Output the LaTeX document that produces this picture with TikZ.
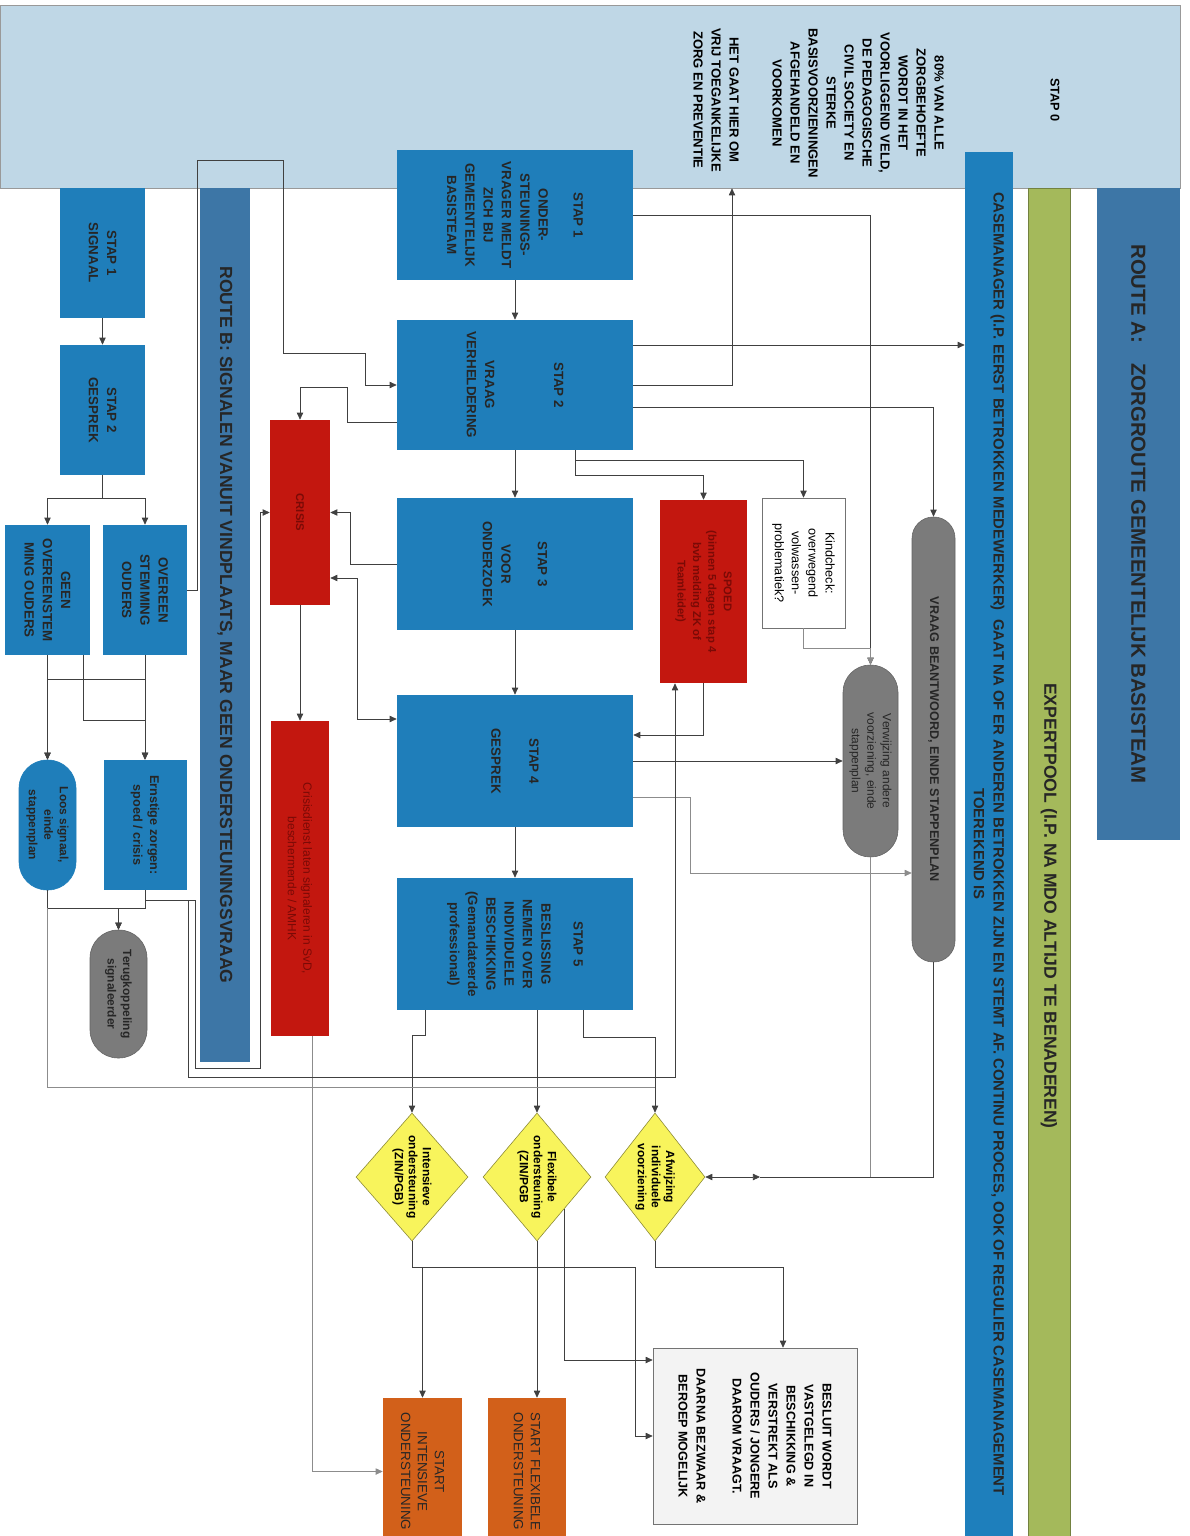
\documentclass[tikz,border=0pt]{standalone}
\usepackage{fontspec}
\setmainfont{Liberation Sans}
\usetikzlibrary{shapes.geometric,arrows.meta,calc}

\definecolor{stapnulblauw}{HTML}{BFD7E6}
\definecolor{stapblauw}{HTML}{1F7EBA}
\definecolor{routeblauw}{HTML}{3D76A6}
\definecolor{casemanagerblauw}{HTML}{1E7FBC}
\definecolor{expertgroen}{HTML}{A4B95B}
\definecolor{crisisrood}{HTML}{C3170F}
\definecolor{crisistekst}{HTML}{7A0A06}
\definecolor{eindgrijs}{HTML}{7B7B7B}
\definecolor{keuzegeel}{HTML}{F8F45C}
\definecolor{startoranje}{HTML}{D2601A}
\definecolor{besluitgrijs}{HTML}{F3F3F3}

\tikzset{
  maat/.style 2 args={minimum width=#1*0.025cm, minimum height=#2*0.025cm},
  gedraaid/.style={rotate=-90, align=center, inner sep=1pt},
  stap/.style={gedraaid, rectangle, fill=stapblauw, text=black!85, font=\bfseries\fontsize{9.5}{13}\selectfont},
  balk/.style={gedraaid, rectangle, text=black!85},
  crisisbox/.style={gedraaid, rectangle, fill=crisisrood, text=crisistekst, font=\bfseries\fontsize{8}{11}\selectfont},
  eindbox/.style={gedraaid, rectangle, rounded corners=#1, fill=eindgrijs, draw=eindgrijs!80!black, text=black!85, font=\bfseries\fontsize{8.5}{11}\selectfont},
  notitie/.style={gedraaid, rectangle, draw=black!55, fill=white, text=black},
  keuze/.style={diamond, rotate=-90, fill=keuzegeel, draw=keuzegeel!55!black, inner sep=0pt},
  keuzetekst/.style={gedraaid, font=\bfseries\fontsize{8.5}{10}\selectfont},
  startbox/.style={gedraaid, rectangle, fill=startoranje, text=black!85, font=\fontsize{9.5}{12}\selectfont},
  lijn/.style={draw=black!75, line width=0.5pt},
  grijslijn/.style={draw=black!45, line width=0.5pt},
  pijl/.style={lijn, -{Triangle[length=5pt,width=4.5pt]}},
  pijlen/.style={lijn, {Triangle[length=5pt,width=4.5pt]}-{Triangle[length=5pt,width=4.5pt]}}
}

\begin{document}
\begin{tikzpicture}[x=0.025cm, y=-0.025cm]
\useasboundingbox (0,0) rectangle (1189,1536);

% stap 0
\node[rectangle, fill=stapnulblauw, draw=black!40, minimum width=1180*0.025cm, minimum height=183*0.025cm] (stapnul) at (590,96.5) {};
\node[gedraaid, font=\bfseries\fontsize{9}{12}\selectfont] (stapnultitel) at (1055,100) {STAP 0};
\node[gedraaid, font=\bfseries\fontsize{9.3}{12.8}\selectfont] (tachtig) at (858,103) {80\% VAN ALLE\\ZORGBEHOEFTE\\WORDT IN HET\\VOORLIGGEND VELD,\\DE PEDAGOGISCHE\\CIVIL SOCIETY EN\\STERKE\\BASISVOORZIENINGEN\\AFGEHANDELD EN\\VOORKOMEN};
\node[gedraaid, font=\bfseries\fontsize{9.3}{12.8}\selectfont] (vrij) at (716,100) {HET GAAT HIER OM\\VRIJ TOEGANKELIJKE\\ZORG EN PREVENTIE};

% balken
\node[balk, fill=casemanagerblauw, maat={1384}{48}, font=\bfseries\fontsize{10.6}{14}\selectfont] (casemanager) at (989,844) {CASEMANAGER (I.P. EERST BETROKKEN MEDEWERKER)\ \ GAAT NA OF ER ANDEREN BETROKKEN ZIJN EN STEMT AF. CONTINU PROCES, OOK OF REGULIER CASEMANAGEMENT\\TOEREKEND IS};
\node[balk, fill=expertgroen, draw=expertgroen!70!black, maat={1348}{42}] (expertpool) at (1049,862) {};
\node[gedraaid, text=black!85, font=\bfseries\fontsize{12.5}{14}\selectfont] (experttekst) at (1049,906) {EXPERTPOOL (I.P. NA MDO ALTIJD TE BENADEREN)};
\node[balk, fill=routeblauw, maat={652}{83}, font=\bfseries\fontsize{14.5}{17}\selectfont] (routea) at (1138.5,514) {ROUTE A:\quad ZORGROUTE GEMEENTELIJK BASISTEAM};
\node[balk, fill=routeblauw, maat={874}{50}, font=\bfseries\fontsize{12.5}{14}\selectfont] (routeb) at (225,625) {ROUTE B: SIGNALEN VANUIT VINDPLAATS, MAAR GEEN ONDERSTEUNINGSVRAAG};

% route A
\node[stap, maat={130}{236}] (s1) at (515,215) {STAP 1\\[12pt]ONDER-\\STEUNINGS-\\VRAGER MELDT\\ZICH BIJ\\GEMEENTELIJK\\BASISTEAM};
\node[stap, maat={130}{236}] (s2) at (515,385) {STAP 2\\[36pt]VRAAG\\VERHELDERING};
\node[stap, maat={132}{236}] (s3) at (515,564) {STAP 3\\[13pt]VOOR\\ONDERZOEK};
\node[stap, maat={132}{236}] (s4) at (515,761) {STAP 4\\[14pt]GESPREK};
\node[stap, maat={132}{236}] (s5) at (515,944) {STAP 5\\[10pt]BESLISSING\\NEMEN OVER\\INDIVIDUELE\\BESCHIKKING\\(Gemandateerde\\professional)};

\node[crisisbox, maat={183}{87}] (spoed) at (703.5,591.5) {SPOED\\(binnen 5 dagen stap 4\\bvb melding ZK of\\Teamleider)};
\node[notitie, maat={130}{83}, font=\fontsize{9}{12}\selectfont] (kindcheck) at (803.5,563) {Kindcheck:\\overwegend\\volwassen-\\problematiek?};
\node[eindbox=0.53cm, maat={445}{43}, font=\bfseries\fontsize{9}{11}\selectfont] (vraag) at (933.5,739.5) {VRAAG BEANTWOORD, EINDE STAPPENPLAN};
\node[eindbox=0.68cm, maat={192}{55}, font=\fontsize{8.5}{11}\selectfont] (verwijzing) at (870.5,761) {Verwijzing andere\\voorziening, einde\\stappenplan};

\node[crisisbox, maat={185}{60}] (crisis) at (300,512.5) {CRISIS};
\node[crisisbox, maat={315}{58}, font=\fontsize{8.5}{11}\selectfont] (crisisdienst) at (300,878.5) {Crisisdienst laten signaleren in SvD,\\beschermende / AMHK};

\node[keuze, maat={128}{112}] (intensief) at (412,1177) {};
\node[keuzetekst] (intensieftekst) at (intensief) {Intensieve\\ondersteuning\\(ZIN/PGB)};
\node[keuze, maat={128}{108}] (flexibel) at (537,1177) {};
\node[keuzetekst] (flexibeltekst) at (flexibel) {Flexibele\\ondersteuning\\(ZIN/PGB};
\node[keuze, maat={128}{100}] (afwijzing) at (655,1177) {};
\node[keuzetekst] (afwijzingtekst) at (afwijzing) {Afwijzing\\individuele\\voorziening};

\node[startbox, maat={147}{79}] (startint) at (422.5,1471.5) {START\\INTENSIEVE\\ONDERSTEUNING};
\node[startbox, maat={147}{78}] (startflex) at (527,1471.5) {START FLEXIBELE\\ONDERSTEUNING};
\node[notitie, fill=besluitgrijs, maat={176}{204}, font=\bfseries\fontsize{9}{12.8}\selectfont] (besluit) at (755,1436) {BESLUIT WORDT\\VASTGELEGD IN\\BESCHIKKING \&\\VERSTREKT ALS\\OUDERS / JONGERE\\DAAROM VRAAGT.\\[12.8pt]DAARNA BEZWAAR \&\\BEROEP MOGELIJK};

% route B
\node[stap, maat={130}{85}] (b1) at (102.5,253) {STAP 1\\SIGNAAL};
\node[stap, maat={130}{85}] (b2) at (102.5,410) {STAP 2\\GESPREK};
\node[stap, maat={130}{84}] (overeen) at (145,590) {OVEREEN\\STEMMING\\OUDERS};
\node[stap, maat={130}{85}] (geen) at (47.5,590) {GEEN\\OVEREENSTEM\\MING OUDERS};
\node[stap, maat={130}{83}, font=\bfseries\fontsize{9}{12}\selectfont] (ernstig) at (145,825) {Ernstige zorgen:\\spoed / crisis};
\node[eindbox=0.7cm, fill=stapblauw, draw=stapblauw, maat={130}{57}] (loos) at (47.5,825) {Loos signaal,\\einde\\stappenplan};
\node[eindbox=0.7cm, maat={128}{57}] (terug) at (118.5,994) {Terugkoppeling\\signaleerder};

% verbindingen route A
\draw[pijl] (s1) -- (s2);
\draw[pijl] (s2) -- (s3);
\draw[pijl] (s3) -- (s4);
\draw[pijl] (s4) -- (s5);
\draw[pijl] (s1.north) -| (verwijzing.west);
\draw[pijl] (s2.north |- 0,345) -- (casemanager.south |- 0,345);
\draw[pijl] (s2.north) -| (732,0 |- stapnul.south);
\draw[pijl] (s2.north |- 0,407) -| (vraag.west);
\draw[pijl] (s2.east -| 575,0) -- (575,460) -| (kindcheck.west);
\draw[pijl] (575,460) -- (575,475) -| (spoed.west);
\draw[grijslijn, -{Triangle[length=5pt,width=4.5pt]}] (kindcheck.east) -- (kindcheck.east |- 0,648) -| (verwijzing.west);
\draw[pijl] (spoed.east) |- (s4.north |- 0,735);
\draw[pijl] (s4) -- (verwijzing);
\draw[grijslijn, -{Triangle[length=5pt,width=4.5pt]}] (s4.north |- 0,797) -- (690,797) |- (vraag.south |- 0,873);

\draw[pijl] (s2.south |- 0,422) -- (347,422) -- (347,387) -| (crisis.west);
\draw[pijl] (s3.south) -- (350,564) |- (crisis.north);
\draw[pijlen] (crisis.north |- 0,578) -- (357,578) |- (s4.south |- 0,719);
\draw[pijl] (crisis) -- (crisisdienst);
\draw[grijslijn, -{Triangle[length=5pt,width=4.5pt]}] (crisisdienst.east -| 312,0) |- (startint.south);

\draw[pijl] (s5.east -| 425,0) -- (425,1035) -| (intensief.west);
\draw[pijl] (s5.east -| 537,0) -- (flexibel.west);
\draw[pijl] (s5.east -| 583,0) -- (583,1037) -| (afwijzing.west);

\draw[pijl] (intensief.east) -- (412,1267) -| (startint.west);
\draw[pijl] (412,1267) -- (635,1267) |- (besluit.south);
\draw[pijl] (flexibel.east) -- (flexibel.east |- startflex.west);
\draw[pijl] ($(flexibel.east)!0.5!(flexibel.north)$) |- (besluit.south |- 0,1360);
\draw[pijl] (afwijzing.east) -- (655,1267) -| (besluit.west -| 783,0);
\draw[pijlen] (afwijzing.north) -- (760,1177);
\draw[lijn] (760,1177) -| (vraag.east);
\draw[grijslijn] (verwijzing.east) -- (verwijzing.east |- 0,1177);

% verbindingen route B
\draw[pijl] (b1) -- (b2);
\draw[pijl] (b2.east) -- (b2.east |- 0,498) -| (overeen.west);
\draw[pijl] (b2.east |- 0,498) -| (geen.west);
\draw[pijl] (overeen) -- (ernstig);
\draw[pijl] (overeen.east |- 0,679) -| (loos.west);
\draw[pijl] (geen) -- (loos);
\draw[pijl] (geen.east -| 83,0) -- (83,720) -| (ernstig.west);
\draw[pijl] (overeen.north) -- (197,590) -- (197,160) -- (283,160) -- (283,353) -- (365,353) |- (s2.south);
\draw[pijl] (loos.east) -- (loos.east |- 0,908) -| (terug.west);
\draw[pijl] (ernstig.east) -- (ernstig.east |- 0,908) -| (terug.west);
\draw[pijl] (ernstig.east |- 0,900) -- (188,900) -- (188,1077) -| (spoed.east -| 675,0);
\draw[pijl] (188,900) -- (195,900) -- (195,1068) -- (260,1068) |- (crisis.south);
\draw[grijslijn] (loos.east |- 0,908) -- (loos.east |- 0,1087) -- (655,1087);
\end{tikzpicture}
\end{document}
